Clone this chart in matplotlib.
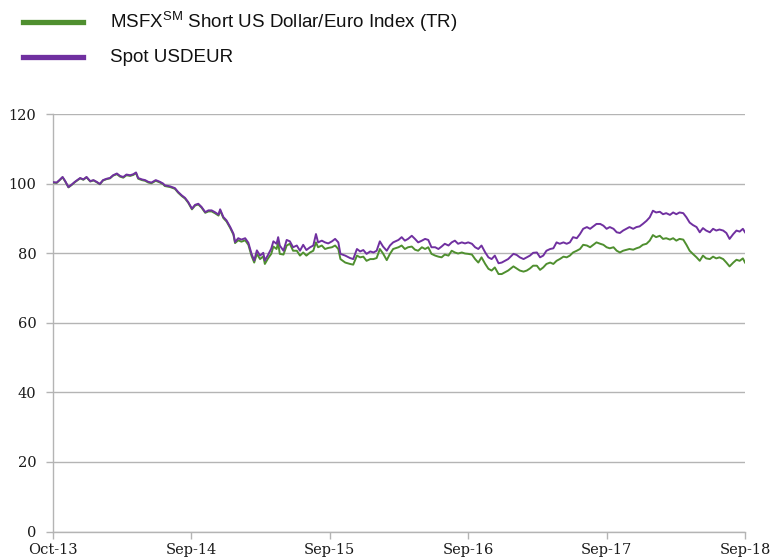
import matplotlib
matplotlib.use("Agg")
import matplotlib.pyplot as plt
from matplotlib.lines import Line2D

plt.rcParams['mathtext.fontset'] = 'custom'
plt.rcParams['mathtext.rm'] = 'Liberation Sans'

# trading-day index (0 = Oct-13, 1300 = Sep-18)
days = [0, 7, 12, 18, 23, 29, 35, 41, 51, 57, 63, 70, 76, 82, 88, 94, 101, 107, 113, 120, 126, 132, 138, 145,
        151, 156, 160, 167, 173, 179, 185, 193, 201, 207,
        210, 220, 229, 235, 242, 248, 254, 261, 267, 273, 279, 286, 292, 298, 304, 311, 314, 320, 326, 333,
        339, 342, 348, 354, 361, 367, 373, 378, 383, 389, 395, 398, 404, 410, 414, 420, 423,
        426, 433, 439, 445, 451, 458, 464, 470, 476, 483, 489, 494, 498, 505, 511, 517, 524, 530, 536, 540,
        549, 558, 564, 571, 577, 583, 589, 596, 602, 608, 614, 620, 627, 633, 639,
        649, 655, 661, 667, 674, 680, 686, 693, 699, 705, 711, 718, 724, 730, 736, 743, 749, 755, 761, 768,
        774, 780, 787, 793, 799, 805, 812, 818, 824, 830, 837, 843, 849, 855,
        865, 871, 877, 884, 890, 896, 902, 909, 915, 921, 927, 934, 940, 946, 952, 959, 965, 971, 977, 984,
        990, 996, 1003, 1009, 1015, 1021, 1028, 1034, 1040, 1046, 1053, 1059, 1065, 1071,
        1083, 1090, 1096, 1102, 1108, 1115, 1121, 1127, 1133, 1140, 1146, 1152, 1159, 1165, 1171, 1177, 1184,
        1190, 1196, 1202, 1209, 1215, 1221, 1227, 1234, 1240, 1246, 1252, 1259, 1265, 1271, 1278, 1284, 1290,
        1296, 1300]

spot_usdeur = [100.4, 100.3, 101.0, 101.9, 100.7, 99.0, 99.7, 100.5, 101.6, 101.2, 101.9, 100.7, 101.0, 100.5,
               99.9, 101.0, 101.4, 101.6, 102.4, 102.9, 102.2, 101.9, 102.6, 102.4, 102.7, 103.2, 101.6, 101.2,
               101.0, 100.5, 100.3, 101.0, 100.5, 100.0,
               99.5, 99.2, 98.7, 97.6, 96.6, 95.9, 94.7, 92.8, 93.9, 94.2, 93.3, 91.8, 92.3, 92.3, 91.8, 91.1,
               92.6, 90.4, 89.4, 87.5, 85.6, 83.2, 84.3, 83.9, 84.3, 83.0, 79.8, 77.9, 80.8, 79.3, 80.1, 77.9,
               79.5, 81.3, 83.4, 82.7, 84.6,
               82.2, 80.7, 83.8, 83.4, 81.7, 82.2, 80.7, 82.4, 80.9, 81.7, 82.2, 85.5, 83.1, 83.6, 83.1, 82.8,
               83.4, 84.1, 83.1, 79.8, 79.3, 78.6, 78.3, 81.2, 80.5, 80.9, 79.8, 80.5, 80.2, 80.7, 83.4, 81.9,
               80.7, 82.2, 83.1,
               83.8, 84.6, 83.6, 84.1, 85.0, 84.1, 83.1, 83.6, 84.1, 83.8, 81.7, 81.7, 81.2, 81.9, 82.7, 82.2,
               83.1, 83.6, 82.7, 83.1, 82.8, 83.1, 82.7, 81.7, 81.2, 82.2, 80.2, 78.8, 78.3, 79.3, 77.1, 77.3,
               77.8, 78.3,
               79.8, 79.5, 78.8, 78.3, 78.8, 79.3, 80.1, 80.2, 78.8, 79.3, 80.7, 81.2, 81.4, 83.1, 82.7, 83.1,
               82.7, 83.1, 84.6, 84.3, 85.5, 87.0, 87.5, 87.0, 87.7, 88.4, 88.4, 87.9, 87.0, 87.5, 87.0, 86.0,
               85.8, 86.5,
               87.5, 87.0, 87.5, 87.7, 88.4, 89.3, 90.3, 92.2, 91.7, 91.9, 91.2, 91.5, 91.0, 91.7, 91.2, 91.7,
               91.5, 90.3, 88.8, 88.1, 87.5, 86.0, 87.2, 86.5, 86.0, 87.0, 86.5, 86.8, 86.5, 85.8, 84.1, 85.5,
               86.5, 86.2, 87.0, 86.0]

msfx_short_usd_eur = [100.3, 100.2, 100.9, 101.8, 100.6, 98.9, 99.6, 100.4, 101.5, 101.1, 101.8, 100.6, 100.9,
                      100.4, 99.8, 100.9, 101.3, 101.5, 102.3, 102.7, 102.0, 101.7, 102.4, 102.2, 102.5, 103.0,
                      101.4, 101.0, 100.8, 100.3, 100.1, 100.8, 100.3, 99.8,
                      99.3, 99.0, 98.5, 97.4, 96.4, 95.7, 94.5, 92.6, 93.7, 94.0, 93.1, 91.6, 92.0, 92.0, 91.5,
                      90.8, 92.3, 90.1, 89.1, 87.2, 85.3, 82.9, 83.7, 83.3, 83.7, 82.4, 79.2, 77.3, 79.8, 78.3,
                      79.1, 76.9, 78.5, 79.8, 81.9, 81.2, 83.1,
                      79.8, 79.6, 82.2, 82.7, 80.7, 80.7, 79.3, 80.2, 79.3, 80.2, 80.7, 83.1, 81.7, 82.2, 81.2,
                      81.5, 81.7, 82.2, 81.2, 78.3, 77.3, 76.9, 76.7, 79.3, 78.8, 79.0, 77.8, 78.3, 78.3, 78.6,
                      81.2, 79.9, 78.0, 79.8, 81.2,
                      81.7, 82.2, 81.2, 81.7, 81.9, 81.0, 80.7, 81.7, 81.2, 81.7, 79.8, 79.3, 79.0, 78.8, 79.6,
                      79.3, 80.7, 80.2, 79.9, 80.2, 79.9, 79.8, 79.6, 78.3, 77.3, 78.8, 76.9, 75.5, 75.0, 75.9,
                      74.0, 74.0, 74.5, 75.0,
                      76.2, 75.6, 75.0, 74.7, 75.0, 75.6, 76.4, 76.4, 75.2, 75.9, 76.9, 77.3, 76.9, 77.8, 78.3,
                      79.0, 78.8, 79.3, 80.2, 80.7, 81.2, 82.4, 82.2, 81.7, 82.4, 83.1, 82.7, 82.4, 81.7, 81.4,
                      81.7, 80.7, 80.2, 80.7,
                      81.2, 81.0, 81.4, 81.7, 82.4, 82.7, 83.6, 85.2, 84.6, 85.0, 84.1, 84.3, 83.9, 84.3, 83.6,
                      84.1, 83.9, 82.4, 80.7, 79.8, 78.8, 77.8, 79.3, 78.5, 78.3, 79.0, 78.5, 78.8, 78.3, 77.3,
                      76.2, 77.3, 78.1, 77.8, 78.5, 77.3]

tick_days = [0, 260, 520, 780, 1040, 1300]
tick_labels = ['Oct-13', 'Sep-14', 'Sep-15', 'Sep-16', 'Sep-17', 'Sep-18']
y_ticks = [0, 20, 40, 60, 80, 100, 120]

GREEN = '#4f8f2f'
PURPLE = '#7030a0'
GRID = '#b4b4b4'

fig = plt.figure(figsize=(7.71, 5.59), dpi=100)
ax = fig.add_axes([53 / 771, 1 - 531.5 / 559, (745 - 53) / 771, (531.5 - 114) / 559])

ax.plot(days, msfx_short_usd_eur, color=GREEN, lw=1.4, zorder=3)
ax.plot(days, spot_usdeur, color=PURPLE, lw=1.4, zorder=4)

ax.set_xlim(0, 1300)
ax.set_ylim(0, 120)
ax.set_xticks(tick_days)
ax.set_xticklabels(tick_labels)
ax.set_yticks(y_ticks)
ax.set_yticklabels([str(v) for v in y_ticks])
ax.grid(axis='y', color=GRID, lw=1.0)
ax.set_axisbelow(True)
for s in ['top', 'right']:
    ax.spines[s].set_visible(False)
for s in ['left', 'bottom']:
    ax.spines[s].set_color(GRID)
    ax.spines[s].set_linewidth(1.0)
ax.tick_params(axis='both', colors=GRID, length=5, width=1.0, labelcolor='#1a1a1a',
               labelsize=10.5)
ax.tick_params(axis='y', pad=7)
ax.tick_params(axis='x', pad=3)
for lab in ax.get_xticklabels() + ax.get_yticklabels():
    lab.set_family('DejaVu Serif')

# legend (drawn above the plot, top-left)
fig.add_artist(Line2D([23 / 771, 83 / 771], [1 - 22 / 559, 1 - 22 / 559], color=GREEN, lw=3.8,
                      transform=fig.transFigure))
fig.add_artist(Line2D([23 / 771, 83 / 771], [1 - 57 / 559, 1 - 57 / 559], color=PURPLE, lw=3.8,
                      transform=fig.transFigure))
fig.text(110 / 771, 1 - 22 / 559, r'MSFX$^{\mathrm{SM}}$ Short US Dollar/Euro Index (TR)',
         family='Liberation Sans', fontsize=13.5, va='center', ha='left', color='#111111')
fig.text(110 / 771, 1 - 57 / 559, 'Spot USDEUR', family='Liberation Sans', fontsize=13.5,
         va='center', ha='left', color='#111111')

fig.savefig('out.png', dpi=100)
